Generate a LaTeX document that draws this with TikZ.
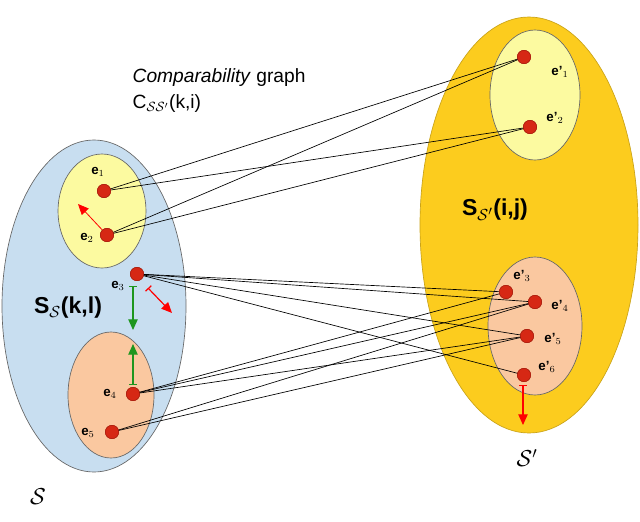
\documentclass[tikz,border=0pt]{standalone}
\usepackage{fontspec}
\setmainfont{Liberation Sans}
\usetikzlibrary{arrows.meta}
\definecolor{lblue}{RGB}{200,222,240}
\definecolor{lyel}{RGB}{252,250,160}
\definecolor{lor}{RGB}{250,200,160}
\definecolor{gold}{RGB}{252,204,30}
\definecolor{dotred}{RGB}{214,40,20}
\definecolor{agreen}{RGB}{30,150,30}
\begin{document}
\begin{tikzpicture}[x=0.75pt,y=-0.75pt,
  reg/.style={draw=black!60,line width=0.5pt},
  dot/.style={circle,fill=dotred,draw=dotred!80!black,minimum size=10pt,inner sep=0pt},
  lbl/.style={font=\bfseries},
  edge/.style={line width=0.5pt},
  arr/.style={line width=0.9pt,-{Triangle[length=8pt,width=7pt]}}]
\useasboundingbox (0,0) rectangle (640,522);
\fill[white] (0,0) rectangle (640,522);
\draw[reg,fill=lblue] (94,306) ellipse (92 and 166);
\draw[reg,fill=lyel] (102,211) ellipse (44 and 57);
\draw[reg,fill=lor] (111,395) ellipse (43 and 63);
\draw[reg,fill=gold,draw=gold!80!black] (529,225) ellipse (109 and 208);
\draw[reg,fill=lyel] (535,95) ellipse (45 and 65);
\draw[reg,fill=lor] (535,326) ellipse (47 and 69);
\node[dot] (e1) at (104,191) {};
\node[dot] (e2) at (107,235) {};
\node[dot] (e3) at (137,274) {};
\node[dot] (e4) at (133,394) {};
\node[dot] (e5) at (112,432) {};
\node[dot] (f1) at (524,57) {};
\node[dot] (f2) at (530,127) {};
\node[dot] (f3) at (506,292) {};
\node[dot] (f4) at (535,302) {};
\node[dot] (f5) at (527,336) {};
\node[dot] (f6) at (524,375) {};
\foreach \a/\b in {e1/f1,e1/f2,e2/f1,e2/f2,e3/f3,e3/f4,e3/f5,e3/f6,e4/f3,e4/f4,e4/f5,e5/f4,e5/f5}
  \draw[edge] (\a.center) -- (\b.center);
\foreach \n in {e1,e2,e3,e4,e5,f1,f2,f3,f4,f5,f6} \node[dot] at (\n) {};
\node[lbl] at (98,172) {e$_1$};
\node[lbl] at (87,238) {e$_2$};
\node[lbl] at (118,286) {e$_3$};
\node[lbl] at (110,394) {e$_4$};
\node[lbl] at (88,433) {e$_5$};
\node[lbl] at (560,72) {e'$_1$};
\node[lbl] at (555,118) {e'$_2$};
\node[lbl] at (522,276) {e'$_3$};
\node[lbl] at (560,306) {e'$_4$};
\node[lbl] at (553,339) {e'$_5$};
\node[lbl] at (547,367) {e'$_6$};
\node[font=\LARGE\bfseries] at (68,308) {S$_{\mathcal{S}}$(k,l)};
\node[font=\LARGE\bfseries] at (495,210) {S$_{\mathcal{S}'}$(i,j)};
\node[font=\Large,anchor=west] at (128,78) {\textit{Comparability} graph};
\node[font=\Large,anchor=west] at (128,104) {C$_{\mathcal{S}\mathcal{S}'}$(k,i)};
\node[font=\LARGE] at (38,497) {$\mathcal{S}$};
\node[font=\LARGE] at (527,458) {$\mathcal{S}'$};
\coordinate (a1) at (78,204);
\draw[arr,red,line width=0.6pt] (e2) -- (a1);
\coordinate (b0) at (148,288); \coordinate (b1) at (172,313);
\draw[arr,red,{Bar[width=6pt]}-{Triangle[length=8pt,width=7pt]}] (b0) -- (b1);
\coordinate (g0) at (133,286); \coordinate (g1) at (133,330);
\draw[arr,agreen,{Bar[width=6pt]}-{Triangle[length=8pt,width=7pt]}] (g0) -- (g1);
\coordinate (h0) at (133,385); \coordinate (h1) at (133,344);
\draw[arr,agreen,{Bar[width=6pt]}-{Triangle[length=8pt,width=7pt]}] (h0) -- (h1);
\coordinate (r0) at (523,385); \coordinate (r1) at (523,425);
\draw[arr,red,{Bar[width=6pt]}-{Triangle[length=8pt,width=7pt]}] (r0) -- (r1);
\end{tikzpicture}
\end{document}
